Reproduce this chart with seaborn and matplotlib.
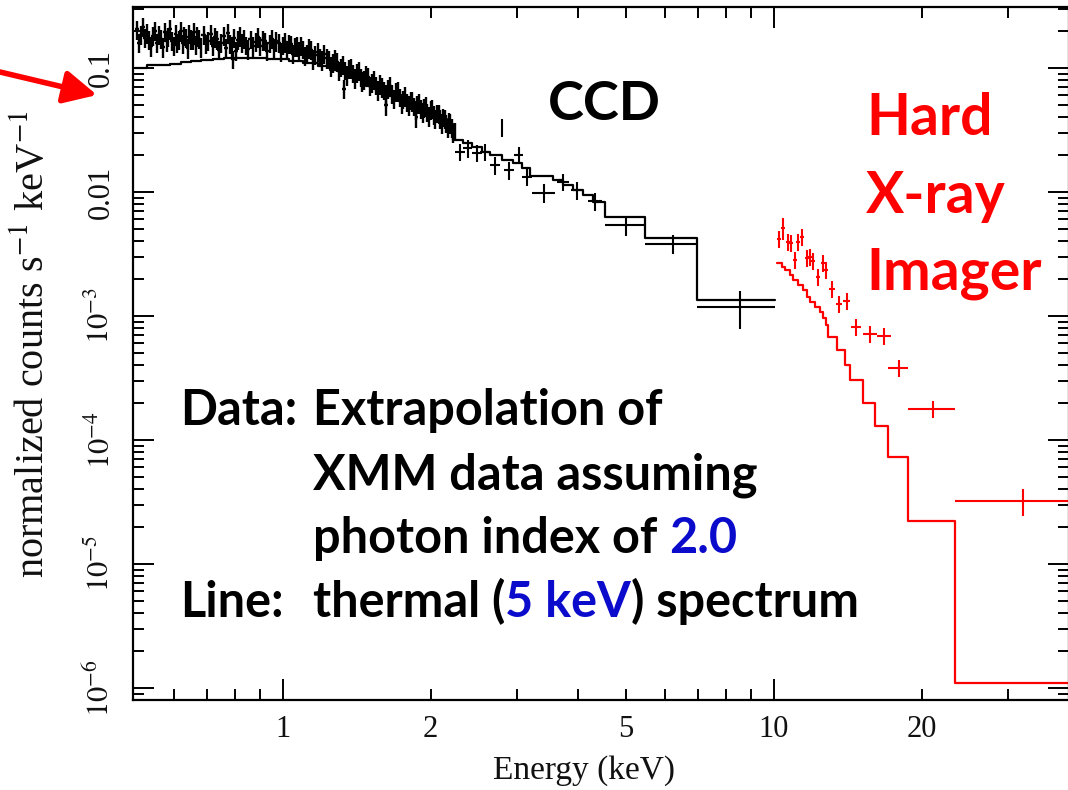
import matplotlib
matplotlib.use("Agg")
import matplotlib.pyplot as plt
import seaborn as sns
from matplotlib.ticker import FixedLocator, FixedFormatter
from matplotlib.patches import FancyArrowPatch

# ---------------- data ----------------
# CCD: densely binned spectrum, 0.5 - 2.25 keV (first interleaved group)
ccd_dense_energy = [0.505, 0.515, 0.525, 0.535, 0.545, 0.555, 0.565, 0.575, 0.585, 0.595,
                    0.605, 0.615, 0.625, 0.635, 0.645, 0.655, 0.665, 0.675,
                    0.69, 0.705, 0.72, 0.735, 0.75, 0.765, 0.78, 0.795, 0.81, 0.825, 0.84,
                    0.86, 0.88, 0.90, 0.92, 0.94, 0.96, 0.98, 1.00, 1.02, 1.04, 1.06, 1.08,
                    1.10, 1.12, 1.14,
                    1.165, 1.19, 1.215, 1.24, 1.265, 1.29, 1.315, 1.34, 1.365, 1.39, 1.415,
                    1.44, 1.465, 1.49,
                    1.52, 1.55, 1.58, 1.61, 1.64, 1.67, 1.70, 1.73, 1.76, 1.79, 1.82, 1.85,
                    1.88, 1.91, 1.94, 1.97, 2.00, 2.03, 2.06, 2.09, 2.12, 2.15, 2.18, 2.21, 2.24,
                    0.79, 1.33, 1.62, 1.87]
ccd_dense_counts = [0.205, 0.185, 0.175, 0.168, 0.182, 0.160, 0.172, 0.195, 0.178, 0.165,
                    0.188, 0.170, 0.158, 0.176, 0.190, 0.168, 0.155, 0.172,
                    0.185, 0.165, 0.150, 0.170, 0.160, 0.145, 0.158, 0.175, 0.168, 0.160, 0.152,
                    0.170, 0.162, 0.150, 0.165, 0.158, 0.145, 0.160, 0.152, 0.140, 0.155, 0.148, 0.138,
                    0.142, 0.132, 0.140,
                    0.128, 0.122, 0.130, 0.118, 0.110, 0.112, 0.102, 0.096, 0.099, 0.090, 0.092,
                    0.084, 0.080, 0.085,
                    0.076, 0.072, 0.074, 0.066, 0.068, 0.062, 0.064, 0.058, 0.056, 0.053, 0.055, 0.049,
                    0.051, 0.047, 0.048, 0.044, 0.046, 0.042, 0.043, 0.039, 0.040, 0.036, 0.037, 0.033, 0.031,
                    0.118, 0.068, 0.050, 0.040]
ccd_dense_xerr = [0.005, 0.005, 0.005, 0.005, 0.005, 0.005, 0.005, 0.005, 0.005, 0.005,
                  0.005, 0.005, 0.005, 0.005, 0.005, 0.005, 0.005, 0.005,
                  0.0075, 0.0075, 0.0075, 0.0075, 0.0075, 0.0075, 0.0075, 0.0075, 0.0075, 0.0075, 0.0075,
                  0.01, 0.01, 0.01, 0.01, 0.01, 0.01, 0.01, 0.01, 0.01, 0.01, 0.01, 0.01,
                  0.01, 0.01, 0.01,
                  0.0125, 0.0125, 0.0125, 0.0125, 0.0125, 0.0125, 0.0125, 0.0125, 0.0125, 0.0125, 0.0125,
                  0.0125, 0.0125, 0.0125,
                  0.015, 0.015, 0.015, 0.015, 0.015, 0.015, 0.015, 0.015, 0.015, 0.015, 0.015, 0.015,
                  0.015, 0.015, 0.015, 0.015, 0.015, 0.015, 0.015, 0.015, 0.015, 0.015, 0.015, 0.015, 0.015,
                  0.0075, 0.0125, 0.015, 0.015]
ccd_dense_yerr = [0.036, 0.032, 0.030, 0.029, 0.033, 0.028, 0.030, 0.034, 0.031, 0.029,
                  0.033, 0.030, 0.028, 0.031, 0.033, 0.029, 0.027, 0.030,
                  0.032, 0.029, 0.026, 0.030, 0.028, 0.025, 0.028, 0.030, 0.029, 0.028, 0.026,
                  0.029, 0.028, 0.026, 0.028, 0.027, 0.025, 0.027, 0.026, 0.024, 0.026, 0.025, 0.023,
                  0.024, 0.022, 0.024,
                  0.022, 0.021, 0.022, 0.020, 0.019, 0.019, 0.017, 0.016, 0.017, 0.015, 0.016,
                  0.014, 0.014, 0.014,
                  0.013, 0.012, 0.013, 0.011, 0.012, 0.011, 0.011, 0.010, 0.0095, 0.0090, 0.0094, 0.0083,
                  0.0087, 0.0080, 0.0082, 0.0075, 0.0078, 0.0071, 0.0073, 0.0066, 0.0068, 0.0061, 0.0063,
                  0.0056, 0.0053,
                  0.020, 0.012, 0.009, 0.007]

# CCD: densely binned spectrum (second interleaved group)
ccd_dense2_energy = [0.51, 0.52, 0.53, 0.54, 0.55, 0.56, 0.57, 0.58, 0.59, 0.60,
                     0.61, 0.62, 0.63, 0.64, 0.65, 0.66, 0.67, 0.68,
                     0.6975, 0.7125, 0.7275, 0.7425, 0.7575, 0.7725, 0.7875, 0.8025, 0.8175, 0.8325, 0.85,
                     0.87, 0.89, 0.91, 0.93, 0.95, 0.97, 0.99, 1.01, 1.03, 1.05, 1.07, 1.09, 1.11, 1.13, 1.15,
                     1.1775, 1.2025, 1.2275, 1.2525, 1.2775, 1.3025, 1.3275, 1.3525, 1.3775, 1.4025,
                     1.4275, 1.4525, 1.4775, 1.505,
                     1.535, 1.565, 1.595, 1.625, 1.655, 1.685, 1.715, 1.745, 1.775, 1.805, 1.835, 1.865,
                     1.895, 1.925, 1.955, 1.985, 2.015, 2.045, 2.075, 2.105, 2.135, 2.165, 2.195, 2.225]
ccd_dense2_counts = [0.160, 0.215, 0.190, 0.150, 0.200, 0.185, 0.148, 0.165, 0.205, 0.152,
                     0.160, 0.198, 0.182, 0.145, 0.170, 0.195, 0.180, 0.148,
                     0.158, 0.188, 0.176, 0.140, 0.182, 0.190, 0.150, 0.138, 0.180, 0.172, 0.142,
                     0.150, 0.178, 0.168, 0.138, 0.172, 0.165, 0.135, 0.162, 0.158, 0.130, 0.150, 0.152,
                     0.125, 0.145, 0.118,
                     0.135, 0.115, 0.120, 0.104, 0.118, 0.095, 0.106, 0.088, 0.100, 0.083, 0.095, 0.078,
                     0.088, 0.072,
                     0.080, 0.066, 0.070, 0.062, 0.071, 0.057, 0.065, 0.052, 0.059, 0.050, 0.054, 0.046,
                     0.052, 0.044, 0.049, 0.041, 0.047, 0.039, 0.043, 0.036, 0.039, 0.033, 0.036, 0.030]
ccd_dense2_xerr = [0.005, 0.005, 0.005, 0.005, 0.005, 0.005, 0.005, 0.005, 0.005, 0.005,
                   0.005, 0.005, 0.005, 0.005, 0.005, 0.005, 0.005, 0.005,
                   0.0075, 0.0075, 0.0075, 0.0075, 0.0075, 0.0075, 0.0075, 0.0075, 0.0075, 0.0075, 0.0075,
                   0.01, 0.01, 0.01, 0.01, 0.01, 0.01, 0.01, 0.01, 0.01, 0.01, 0.01, 0.01, 0.01, 0.01, 0.01,
                   0.0125, 0.0125, 0.0125, 0.0125, 0.0125, 0.0125, 0.0125, 0.0125, 0.0125, 0.0125,
                   0.0125, 0.0125, 0.0125, 0.0125,
                   0.015, 0.015, 0.015, 0.015, 0.015, 0.015, 0.015, 0.015, 0.015, 0.015, 0.015, 0.015,
                   0.015, 0.015, 0.015, 0.015, 0.015, 0.015, 0.015, 0.015, 0.015, 0.015, 0.015, 0.015]
ccd_dense2_yerr = [0.029, 0.039, 0.034, 0.027, 0.036, 0.033, 0.027, 0.030, 0.037, 0.027,
                   0.029, 0.036, 0.033, 0.026, 0.031, 0.035, 0.032, 0.027,
                   0.028, 0.034, 0.032, 0.025, 0.033, 0.034, 0.027, 0.025, 0.032, 0.031, 0.026,
                   0.027, 0.032, 0.030, 0.025, 0.031, 0.030, 0.024, 0.029, 0.028, 0.023, 0.027, 0.027,
                   0.022, 0.026, 0.021,
                   0.024, 0.021, 0.022, 0.019, 0.021, 0.017, 0.019, 0.016, 0.018, 0.015, 0.017, 0.014,
                   0.016, 0.013,
                   0.014, 0.012, 0.013, 0.011, 0.013, 0.010, 0.012, 0.0094, 0.011, 0.0090, 0.0097, 0.0083,
                   0.0094, 0.0079, 0.0088, 0.0074, 0.0085, 0.0070, 0.0077, 0.0065, 0.0070, 0.0059, 0.0065,
                   0.0054]

# CCD: grouped bins above 2.2 keV
ccd_energy = [2.293, 2.381, 2.484, 2.579, 2.703, 2.793, 2.886, 3.024, 3.141, 3.401,
              3.718, 3.970, 4.320, 4.995, 6.228, 8.526]
ccd_e_lo = [2.24, 2.33, 2.43, 2.52, 2.64, 2.785, 2.82, 2.96, 3.07, 3.22,
            3.62, 3.86, 4.18, 4.53, 5.46, 6.97]
ccd_e_hi = [2.35, 2.43, 2.54, 2.64, 2.77, 2.80, 2.95, 3.09, 3.21, 3.58,
            3.82, 4.08, 4.47, 5.46, 6.97, 10.05]
ccd_counts = [0.0210, 0.02264, 0.02063, 0.0210, 0.01651, 0.0334, 0.01504, 0.01986, 0.01320, 0.00982,
              0.01204, 0.01038, 0.00846, 0.00542, 0.00381, 0.00118]
ccd_counts_err = [0.0034, 0.0037, 0.0033, 0.0034, 0.0027, 0.0055, 0.0025, 0.0032, 0.0021, 0.0017,
                  0.0019, 0.0017, 0.0014, 0.0010, 0.00065, 0.00040]

# CCD: thermal model (step histogram: bin edges + values)
ccd_model_edges = [0.50, 0.53, 0.59, 0.62, 0.65, 0.68, 0.72, 0.76, 0.93, 1.03, 1.10, 1.18, 1.25,
                   1.31, 1.38, 1.44, 1.48, 1.55, 1.62, 1.68, 1.73, 1.80, 1.87, 1.93, 2.00, 2.08,
                   2.16, 2.22, 2.33, 2.43, 2.54, 2.64, 2.79, 2.94, 3.07, 3.18, 3.55, 3.72, 3.90,
                   4.08, 4.28, 4.53, 5.46, 6.97, 10.05]
ccd_model_values = [0.100, 0.106, 0.108, 0.112, 0.114, 0.116, 0.118, 0.120, 0.118, 0.114, 0.109,
                    0.103, 0.097, 0.091, 0.085, 0.079, 0.072, 0.065, 0.059, 0.055, 0.053, 0.052,
                    0.050, 0.047, 0.043, 0.039, 0.035, 0.0263, 0.0248, 0.0231, 0.0210, 0.0199,
                    0.0181, 0.0171, 0.0156, 0.01346, 0.0125, 0.0114, 0.01038, 0.00946, 0.0083,
                    0.00628, 0.00426, 0.001345]

# Hard X-ray Imager data
hxi_energy = [10.24, 10.43, 10.68, 10.83, 11.03, 11.19, 11.40, 11.67, 11.84, 12.01, 12.29,
              12.58, 12.76, 13.13, 13.56, 14.08, 14.69, 15.69, 16.75, 17.97, 21.08, 32.15]
hxi_e_lo = [10.14, 10.34, 10.58, 10.73, 10.93, 11.09, 11.30, 11.56, 11.73, 11.90, 12.17,
            12.46, 12.64, 12.95, 13.38, 13.85, 14.35, 15.18, 16.20, 17.07, 18.75, 23.37]
hxi_e_hi = [10.34, 10.53, 10.78, 10.93, 11.13, 11.30, 11.50, 11.78, 11.95, 12.12, 12.41,
            12.70, 12.88, 13.31, 13.75, 14.30, 15.05, 16.20, 17.30, 18.75, 23.37, 40.0]
hxi_counts = [0.00418, 0.00513, 0.00395, 0.00388, 0.00283, 0.00395, 0.00434, 0.00294, 0.00299,
              0.00278, 0.00206, 0.00268, 0.00235, 0.00165, 0.00125, 0.00132, 0.000815, 0.000716,
              0.00069, 0.000381, 0.000178, 3.22e-5]
hxi_counts_err = [0.00062, 0.0010, 0.00060, 0.00058, 0.00045, 0.00060, 0.00065, 0.00047, 0.00048,
                  0.00044, 0.00033, 0.00043, 0.00037, 0.00026, 0.00020, 0.00021, 0.00013, 0.00011,
                  0.00011, 6.0e-5, 2.8e-5, 8.0e-6]

# Hard X-ray Imager: thermal model
hxi_model_edges = [10.14, 10.38, 10.53, 10.78, 10.93, 11.19, 11.46, 11.67, 11.84, 12.12, 12.41,
                   12.58, 12.76, 12.88, 13.44, 13.95, 14.28, 15.18, 16.06, 17.07, 18.75, 23.37, 40.0]
hxi_model_values = [0.00268, 0.00249, 0.00235, 0.00214, 0.00195, 0.00178, 0.00162, 0.00142,
                    0.00130, 0.00118, 0.00108, 0.000963, 0.000846, 0.000677, 0.000532, 0.000403,
                    0.000305, 0.000199, 0.000130, 7.3e-5, 2.22e-5, 1.10e-6]

x_tick_major = [1, 10]
x_tick_major_labels = ["1", "10"]
x_tick_minor = [0.6, 0.7, 0.8, 0.9, 2, 3, 4, 5, 6, 7, 8, 9, 20, 30]
x_tick_minor_labels = ["", "", "", "", "2", "", "", "5", "", "", "", "", "20", ""]
y_tick_major = [1e-6, 1e-5, 1e-4, 1e-3, 1e-2, 1e-1]
y_tick_major_labels = [r"$10^{-6}$", r"$10^{-5}$", r"$10^{-4}$", r"$10^{-3}$", "0.01", "0.1"]

# ---------------- figure ----------------
sns.set_theme(style="ticks")
plt.rcParams["font.family"] = ["Liberation Serif", "DejaVu Serif"]
plt.rcParams["mathtext.fontset"] = "stix"

W, H = 1068, 790
fig = plt.figure(figsize=(W / 100, H / 100), dpi=100, facecolor="white")
ax = fig.add_axes([133 / W, 1 - 700 / H, (1069 - 133) / W, (700 - 7) / H])
ax.set_facecolor("white")
ax.set_xscale("log")
ax.set_yscale("log")


def asym(center, lo, hi):
    return [[c - l for c, l in zip(center, lo)], [h - c for c, h in zip(center, hi)]]


# models (step histograms)
sns.lineplot(x=ccd_model_edges, y=ccd_model_values + [ccd_model_values[-1]],
             drawstyle="steps-post", color="black", linewidth=1.6,
             estimator=None, sort=False, ax=ax)
sns.lineplot(x=hxi_model_edges, y=hxi_model_values + [hxi_model_values[-1]],
             drawstyle="steps-post", color="#ff0000", linewidth=1.6,
             estimator=None, sort=False, ax=ax)

# data with error bars
ax.errorbar(ccd_dense_energy, ccd_dense_counts, xerr=ccd_dense_xerr, yerr=ccd_dense_yerr,
            fmt="none", ecolor="black", elinewidth=1.7, capsize=0)
ax.errorbar(ccd_dense2_energy, ccd_dense2_counts, xerr=ccd_dense2_xerr, yerr=ccd_dense2_yerr,
            fmt="none", ecolor="black", elinewidth=1.7, capsize=0)
ax.errorbar(ccd_energy, ccd_counts, xerr=asym(ccd_energy, ccd_e_lo, ccd_e_hi),
            yerr=ccd_counts_err, fmt="none", ecolor="black", elinewidth=1.5, capsize=0)
ax.errorbar(hxi_energy, hxi_counts, xerr=asym(hxi_energy, hxi_e_lo, hxi_e_hi),
            yerr=hxi_counts_err, fmt="none", ecolor="#ff0000", elinewidth=1.5, capsize=0)

ax.set_xlim(0.4953, 39.9)
ax.set_ylim(8.0e-7, 0.31)

ax.xaxis.set_major_locator(FixedLocator(x_tick_major))
ax.xaxis.set_major_formatter(FixedFormatter(x_tick_major_labels))
ax.xaxis.set_minor_locator(FixedLocator(x_tick_minor))
ax.xaxis.set_minor_formatter(FixedFormatter(x_tick_minor_labels))

y_minor = [m * 10.0 ** k for k in range(-7, 0) for m in range(2, 10)]
ax.yaxis.set_major_locator(FixedLocator(y_tick_major))
ax.yaxis.set_major_formatter(FixedFormatter(y_tick_major_labels))
ax.yaxis.set_minor_locator(FixedLocator(y_minor))
ax.yaxis.set_minor_formatter(FixedFormatter([""] * len(y_minor)))

ax.tick_params(which="both", direction="in", top=True, right=True, width=1.4,
               color="black", labelsize=22, labelcolor="#111111")
ax.tick_params(which="major", length=15)
ax.tick_params(which="minor", length=8)
ax.tick_params(axis="x", which="both", pad=11)
ax.tick_params(axis="y", which="both", pad=12)
for lbl in ax.get_yticklabels():
    lbl.set_rotation(90)
    lbl.set_va("center")
for sp in ax.spines.values():
    sp.set_linewidth(1.6)
    sp.set_color("black")

ax.set_xlabel("Energy (keV)", fontsize=24, color="#111111")
ax.set_ylabel(r"normalized counts s$^{-1}$ keV$^{-1}$", fontsize=29, color="#111111")
ax.xaxis.set_label_coords(0.482, -0.080)
ax.yaxis.set_label_coords(-0.0865, 0.513)

# ---------------- overlay annotations ----------------
SANS = "Lato"


def ftext(xpx, ypx, s, **kw):
    return fig.text(xpx / W, 1 - ypx / H, s, ha="left", va="baseline",
                    family=SANS, weight="bold", **kw)


ftext(548, 120, "CCD", fontsize=39, color="black")
ftext(866, 135, "Hard", fontsize=41, color="#ff0000")
ftext(866, 213, "X-ray", fontsize=41, color="#ff0000")
ftext(866, 290, "Imager", fontsize=41, color="#ff0000")

BFS = 35
BLUE = "#0b0bcc"
ftext(180, 425, "Data:", fontsize=BFS, color="black")
ftext(313, 425, "Extrapolation of", fontsize=BFS, color="black")
ftext(313, 490, "XMM data assuming", fontsize=BFS, color="black")
ftext(180, 617, "Line:", fontsize=BFS, color="black")

fig.canvas.draw()
renderer = fig.canvas.get_renderer()


def measure(s):
    t = fig.text(0, 0, s, family=SANS, weight="bold", fontsize=BFS)
    w = t.get_window_extent(renderer=renderer).width
    t.remove()
    return w


space_w = measure("x x") - measure("xx")


def chain(xpx, ypx, parts):
    x = xpx
    for s, c, gap in parts:
        x += gap
        t = ftext(x, ypx, s, fontsize=BFS, color=c)
        x = t.get_window_extent(renderer=renderer).x1
    return x


chain(313, 553, [("photon index of", "black", 0), ("2.0", BLUE, space_w)])
chain(313, 617, [("thermal (", "black", 0), ("5 keV", BLUE, 0), (") spectrum", "black", 0)])

# red arrow pointing to the 0.1 label
arrow = FancyArrowPatch((0 / W, 1 - 72 / H), (97 / W, 1 - 95 / H), transform=fig.transFigure,
                        arrowstyle="-|>,head_length=1.0,head_width=0.5", mutation_scale=20,
                        color="#ff0000", linewidth=4, shrinkA=0, shrinkB=0)
fig.add_artist(arrow)

fig.savefig("out.png", dpi=100, facecolor="white")
